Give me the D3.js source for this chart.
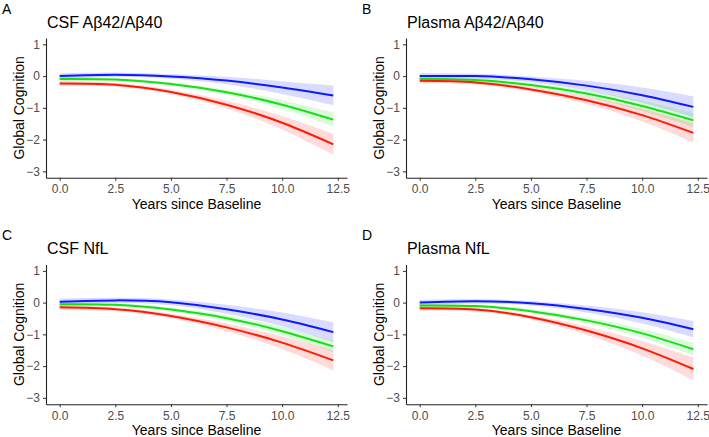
<!DOCTYPE html>
<html><head><meta charset="utf-8">
<script src="https://cdn.jsdelivr.net/npm/d3@7"></script>
<style>body{margin:0;background:#fff;} svg{display:block;}</style>
</head><body>
<svg id="chart" width="709" height="437"></svg>
<script>
// ---- data ----
const years = [0, 2.5, 5, 7.5, 10, 12.3];
const xTicks = [0, 2.5, 5, 7.5, 10, 12.5];
const yTicks = [-3, -2, -1, 0, 1];
const panelLetters = ["A", "B", "C", "D"];
const panelTitles = ["CSF Aβ42/Aβ40", "Plasma Aβ42/Aβ40", "CSF NfL", "Plasma NfL"];
const groups = ["blue", "green", "red"];

// Panel A
const A_blue_fit  = [0.00, 0.04, -0.01, -0.14, -0.36, -0.61];
const A_blue_lo   = [-0.09, -0.03, -0.08, -0.26, -0.56, -0.92];
const A_blue_hi   = [0.09, 0.11, 0.06, -0.02, -0.16, -0.30];
const A_green_fit = [-0.09, -0.11, -0.25, -0.51, -0.90, -1.37];
const A_green_lo  = [-0.16, -0.16, -0.30, -0.59, -1.04, -1.59];
const A_green_hi  = [-0.02, -0.06, -0.20, -0.43, -0.76, -1.15];
const A_red_fit   = [-0.23, -0.27, -0.50, -0.90, -1.47, -2.15];
const A_red_lo    = [-0.31, -0.33, -0.57, -1.02, -1.68, -2.48];
const A_red_hi    = [-0.15, -0.21, -0.43, -0.78, -1.26, -1.82];
// Panel B
const B_blue_fit  = [0.00, 0.00, -0.10, -0.30, -0.60, -0.97];
const B_blue_lo   = [-0.10, -0.08, -0.19, -0.45, -0.84, -1.30];
const B_blue_hi   = [0.10, 0.08, -0.01, -0.15, -0.36, -0.64];
const B_green_fit = [-0.08, -0.12, -0.28, -0.55, -0.94, -1.39];
const B_green_lo  = [-0.16, -0.18, -0.35, -0.65, -1.10, -1.61];
const B_green_hi  = [0.00, -0.06, -0.21, -0.45, -0.78, -1.17];
const B_red_fit   = [-0.15, -0.20, -0.42, -0.76, -1.23, -1.79];
const B_red_lo    = [-0.23, -0.26, -0.49, -0.88, -1.43, -2.10];
const B_red_hi    = [-0.07, -0.14, -0.35, -0.64, -1.03, -1.48];
// Panel C
const C_blue_fit  = [0.03, 0.07, 0.01, -0.21, -0.53, -0.93];
const C_blue_lo   = [-0.07, -0.01, -0.08, -0.35, -0.75, -1.24];
const C_blue_hi   = [0.13, 0.15, 0.10, -0.07, -0.31, -0.62];
const C_green_fit = [-0.05, -0.07, -0.22, -0.49, -0.90, -1.38];
const C_green_lo  = [-0.12, -0.12, -0.28, -0.58, -1.03, -1.56];
const C_green_hi  = [0.02, -0.02, -0.16, -0.40, -0.77, -1.20];
const C_red_fit   = [-0.15, -0.21, -0.42, -0.78, -1.26, -1.82];
const C_red_lo    = [-0.23, -0.27, -0.49, -0.90, -1.46, -2.14];
const C_red_hi    = [-0.07, -0.15, -0.35, -0.66, -1.06, -1.50];
// Panel D
const D_blue_fit  = [0.00, 0.04, -0.02, -0.20, -0.48, -0.84];
const D_blue_lo   = [-0.09, -0.03, -0.09, -0.31, -0.66, -1.10];
const D_blue_hi   = [0.09, 0.11, 0.05, -0.09, -0.30, -0.58];
const D_green_fit = [-0.09, -0.11, -0.27, -0.56, -0.97, -1.47];
const D_green_lo  = [-0.16, -0.16, -0.33, -0.65, -1.11, -1.67];
const D_green_hi  = [-0.02, -0.06, -0.21, -0.47, -0.83, -1.27];
const D_red_fit   = [-0.18, -0.22, -0.46, -0.88, -1.44, -2.09];
const D_red_lo    = [-0.26, -0.28, -0.53, -1.01, -1.67, -2.45];
const D_red_hi    = [-0.10, -0.16, -0.39, -0.75, -1.21, -1.73];

// ---- build ----
const panelData = [
  {blue:[A_blue_fit,A_blue_lo,A_blue_hi], green:[A_green_fit,A_green_lo,A_green_hi], red:[A_red_fit,A_red_lo,A_red_hi]},
  {blue:[B_blue_fit,B_blue_lo,B_blue_hi], green:[B_green_fit,B_green_lo,B_green_hi], red:[B_red_fit,B_red_lo,B_red_hi]},
  {blue:[C_blue_fit,C_blue_lo,C_blue_hi], green:[C_green_fit,C_green_lo,C_green_hi], red:[C_red_fit,C_red_lo,C_red_hi]},
  {blue:[D_blue_fit,D_blue_lo,D_blue_hi], green:[D_green_fit,D_green_lo,D_green_hi], red:[D_red_fit,D_red_lo,D_red_hi]}
];
const lineColor = {blue:"#0a1cff", green:"#14e014", red:"#ff1a00"};
const fillColor = {blue:"#0000ff", green:"#00dd00", red:"#ff0000"};

const svg = d3.select("#chart");
const font = "'Liberation Sans', Arial, Helvetica, sans-serif";
const offX = [0, 360, 0, 360];
const offY = [0, 0, 226.5, 226.5];

const x = d3.scaleLinear().domain([-0.615, 12.915]).range([46, 347]);
const y = d3.scaleLinear().domain([-3.2, 1.2]).range([177.7, 38]);

panelData.forEach((pd, i) => {
  const g = svg.append("g").attr("transform", `translate(${offX[i]},${offY[i]})`);

  // ribbons
  groups.forEach(k => {
    const [fit, lo, hi] = pd[k];
    const pts = years.map((t, j) => ({t, lo: lo[j], hi: hi[j]}));
    g.append("path").datum(pts)
      .attr("d", d3.area().x(d => x(d.t)).y0(d => y(d.lo)).y1(d => y(d.hi)).curve(d3.curveNatural))
      .attr("fill", fillColor[k]).attr("fill-opacity", 0.14);
  });
  // lines
  groups.forEach(k => {
    const [fit] = pd[k];
    const pts = years.map((t, j) => ({t, v: fit[j]}));
    g.append("path").datum(pts)
      .attr("d", d3.line().x(d => x(d.t)).y(d => y(d.v)).curve(d3.curveNatural))
      .attr("fill", "none").attr("stroke", lineColor[k]).attr("stroke-width", 2);
  });

  // axes
  const xa = g.append("g").attr("transform", `translate(0,${y.range()[0]})`)
    .call(d3.axisBottom(x).tickValues(xTicks).tickFormat(d3.format(".1f")).tickSize(3).tickSizeOuter(0).tickPadding(4));
  const ya = g.append("g").attr("transform", `translate(${x.range()[0]},0)`)
    .call(d3.axisLeft(y).tickValues(yTicks).tickFormat(d3.format("d")).tickSize(3).tickSizeOuter(0).tickPadding(3));
  [xa, ya].forEach(a => {
    a.select(".domain").attr("stroke", "#222").attr("stroke-width", 1.1);
    a.selectAll(".tick line").attr("stroke", "#333").attr("stroke-width", 1);
    a.selectAll(".tick text").attr("fill", "#4d4d4d").style("font-family", font).style("font-size", "12px");
  });

  // axis titles
  g.append("text").attr("x", (x.range()[0] + x.range()[1]) / 2).attr("y", 208.5)
    .attr("text-anchor", "middle").style("font-family", font).style("font-size", "14px").attr("fill", "#000")
    .text("Years since Baseline");
  g.append("text").attr("transform", `translate(24,${(y.range()[0] + y.range()[1]) / 2}) rotate(-90)`)
    .attr("text-anchor", "middle").style("font-family", font).style("font-size", "14px").attr("fill", "#000")
    .text("Global Cognition");

  // titles
  g.append("text").attr("x", 47).attr("y", 27.5).style("font-family", font).style("font-size", "16px").attr("fill", "#000")
    .text(panelTitles[i]);
  g.append("text").attr("x", 2).attr("y", 13.5).style("font-family", font).style("font-size", "14px").attr("fill", "#000")
    .text(panelLetters[i]);
});
</script>
</body></html>
